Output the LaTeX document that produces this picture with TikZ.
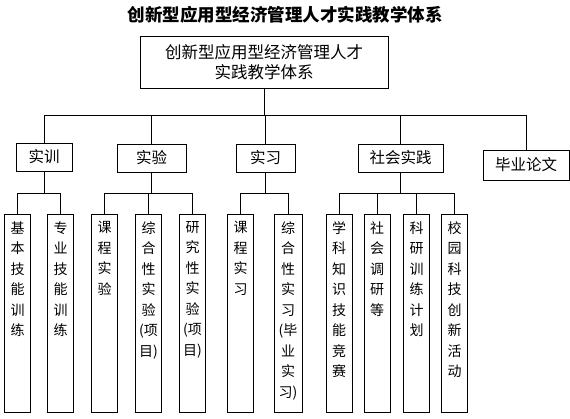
\documentclass[tikz,border=0pt]{standalone}
\usepackage{fontspec}
\setmainfont{Noto Sans CJK SC}
\newcommand{\leaftext}[1]{\parbox[t][190pt][t]{26pt}{\centering\fontsize{14}{20.5}\selectfont\vspace*{3pt}#1}}
\tikzset{
  box/.style={draw, line width=0.8pt, inner sep=0pt},
  topbox/.style={box, minimum width=248pt, minimum height=52pt, align=center, font=\fontsize{16.5}{20}\selectfont},
  midbox/.style={box, minimum height=28pt, font=\fontsize{15.5}{18}\selectfont},
  leaf/.style={box, anchor=north, minimum width=26pt, minimum height=198pt},
  conn/.style={line width=0.8pt}
}
\begin{document}
\begin{tikzpicture}[x=1pt,y=1pt]
\useasboundingbox (0,0) rectangle (570,-419);
\node (title) at (285,-15) {\fontsize{17.5}{20}\selectfont\bfseries 创新型应用型经济管理人才实践教学体系};
\node[topbox] (top) at (264,-62) {创新型应用型经济管理人才\\实践教学体系};
\coordinate (bus) at (264,-115);
\coordinate (sbus) at (0,-193);
% level 2
\node[midbox, minimum width=56pt] (sx) at (44,-157) {实训};
\node[midbox, minimum width=69pt] (sy) at (151.5,-158) {实验};
\node[midbox, minimum width=59pt] (sxi) at (265.5,-158) {实习};
\node[midbox, minimum width=85pt] (sh) at (400.5,-158) {社会实践};
\node[midbox, minimum width=86pt, minimum height=30pt] (by) at (526,-165) {毕业论文};
% leaves
\node[leaf] (a1) at (17.5,-214) {\leaftext{基\\本\\技\\能\\训\\练}};
\node[leaf] (a2) at (60.5,-214) {\leaftext{专\\业\\技\\能\\训\\练}};
\node[leaf] (b1) at (104.5,-214) {\leaftext{课\\程\\实\\验}};
\node[leaf] (b2) at (148.5,-214) {\leaftext{综\\合\\性\\实\\验\\(项\\目)}};
\node[leaf] (b3) at (192.5,-214) {\leaftext{研\\究\\性\\实\\验\\(项\\目)}};
\node[leaf] (c1) at (240.5,-214) {\leaftext{课\\程\\实\\习}};
\node[leaf, minimum width=28pt] (c2) at (288,-214) {\leaftext{综\\合\\性\\实\\习\\(毕\\业\\实\\习)}};
\node[leaf] (d1) at (339,-214) {\leaftext{学\\科\\知\\识\\技\\能\\竞\\赛}};
\node[leaf] (d2) at (377,-214) {\leaftext{社\\会\\调\\研\\等}};
\node[leaf] (d3) at (416.5,-214) {\leaftext{科\\研\\训\\练\\计\\划}};
\node[leaf] (d4) at (454.5,-214) {\leaftext{校\\园\\科\\技\\创\\新\\活\\动}};
% connectors top
\draw[conn] (top.south) -- (bus);
\foreach \n in {sx,sy,sxi,sh,by} {\draw[conn] (bus) -| (\n.north);}
% group connectors
\foreach \p/\kids in {sx/{a1,a2}, sy/{b1,b2,b3}, sxi/{c1,c2}, sh/{d1,d2,d3,d4}} {
  \draw[conn] (\p.south) -- (sbus -| \p.south);
  \foreach \k in \kids {\draw[conn] (sbus -| \p.south) -| (\k.north);}
}
\end{tikzpicture}
\end{document}
